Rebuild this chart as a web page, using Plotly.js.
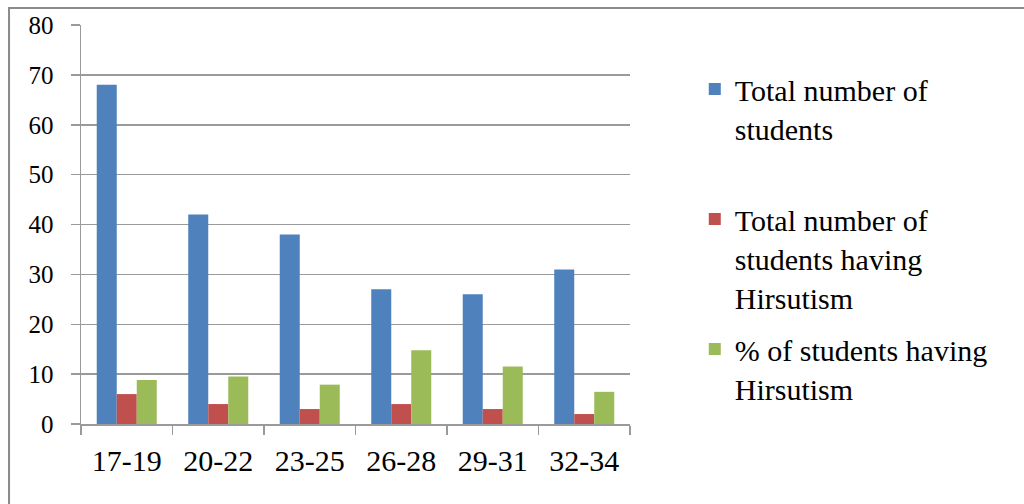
<!DOCTYPE html>
<html>
<head>
<meta charset="utf-8">
<script src="https://cdn.plot.ly/plotly-3.0.1.min.js"></script>
<style>
  html, body { margin: 0; padding: 0; background: #fff; }
  #chart { width: 1024px; height: 504px; }
</style>
</head>
<body>
<div id="chart"></div>
<script>
// Age groups of the surveyed students
const ageGroups = ['17-19', '20-22', '23-25', '26-28', '29-31', '32-34'];

// Students per age group
const totalStudents = [68, 42, 38, 27, 26, 31];

// Students with hirsutism per age group
const hirsuteStudents = [6, 4, 3, 4, 3, 2];

// Share of students with hirsutism (%)
const hirsutePercent = [8.82, 9.52, 7.89, 14.81, 11.54, 6.45];

// Legend labels (extra blank line on the first keeps entries evenly spaced)
const seriesNames = [
  'Total number of<br>students<br> ',
  'Total number of<br>students having<br>Hirsutism',
  '% of students having<br>Hirsutism'
];

const serif = "'Liberation Serif', 'Times New Roman', 'DejaVu Serif', serif";
const gridGray = '#9a9a9a';

const traces = [
  { values: totalStudents, color: '#4F81BD' },
  { values: hirsuteStudents, color: '#C0504D' },
  { values: hirsutePercent, color: '#9BBB59' }
].map((s, i) => ({
  type: 'bar',
  x: ageGroups,
  y: s.values,
  name: seriesNames[i],
  legendgroup: 'g' + i,
  marker: { color: s.color, line: { width: 0 } },
  hoverinfo: 'x+y'
}));

const layout = {
  width: 1024,
  height: 504,
  margin: { l: 81, r: 394, t: 25, b: 80 },
  paper_bgcolor: '#ffffff',
  plot_bgcolor: '#ffffff',
  barmode: 'group',
  bargap: 0.344,
  bargroupgap: 0,
  font: { family: serif, color: '#000000' },
  xaxis: {
    type: 'category',
    showgrid: false,
    showline: true,
    linecolor: gridGray,
    linewidth: 1.5,
    ticks: 'outside',
    tickson: 'boundaries',
    ticklen: 9,
    tickcolor: gridGray,
    tickwidth: 1.5,
    ticklabelstandoff: 9,
    tickfont: { family: serif, size: 30, color: '#000000' },
    fixedrange: true
  },
  yaxis: {
    range: [0, 80],
    dtick: 10,
    tick0: 0,
    showgrid: true,
    gridcolor: gridGray,
    gridwidth: 1.5,
    zeroline: false,
    showline: true,
    linecolor: gridGray,
    linewidth: 1.5,
    ticks: 'outside',
    ticklen: 9,
    tickcolor: gridGray,
    tickwidth: 1.5,
    ticklabelstandoff: 12,
    tickfont: { family: serif, size: 25, color: '#000000' },
    fixedrange: true
  },
  legend: {
    x: 1.118,
    xanchor: 'left',
    y: 0.905,
    yanchor: 'top',
    traceorder: 'grouped',
    tracegroupgap: 10,
    valign: 'top',
    itemwidth: 30,
    bgcolor: 'rgba(0,0,0,0)',
    font: { family: serif, size: 30, color: '#000000' }
  },
  shapes: [{
    type: 'rect',
    xref: 'paper', yref: 'paper',
    x0: -0.1311, x1: 1.8,
    y0: -0.3, y1: 1.0426,
    line: { color: '#8a8a8a', width: 2 },
    fillcolor: 'rgba(0,0,0,0)',
    layer: 'below'
  }]
};

Plotly.newPlot('chart', traces, layout, { displayModeBar: false, staticPlot: true });
</script>
</body>
</html>
